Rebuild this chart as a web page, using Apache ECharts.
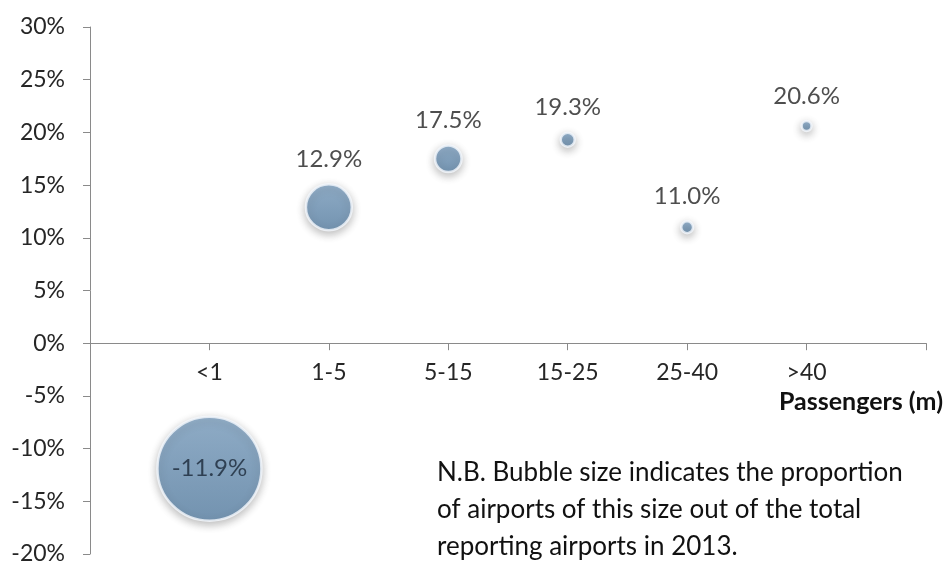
<!DOCTYPE html>
<html>
<head>
<meta charset="utf-8">
<script src="https://cdn.jsdelivr.net/npm/echarts@6/dist/echarts.min.js"></script>
<style>
html,body{margin:0;padding:0;background:#fff;}
#chart{width:948px;height:562px;}
</style>
</head>
<body>
<div id="chart"></div>
<script>
// Passenger size bands (million passengers)
const categories = ['<1', '1-5', '5-15', '15-25', '25-40', '>40'];
// Growth (%) per band
const growth = [-11.9, 12.9, 17.5, 19.3, 11.0, 20.6];
// Proportion of reporting airports in each band (%), drives bubble area
const shareOfAirports = [77, 15, 5, 1.4, 1, 0.7];
const note = 'N.B. Bubble size indicates the proportion\nof airports of this size out of the total\nreporting airports in 2013.';

const FONT = 'Lato';
const yMin = -20, yMax = 30;
const gridTop = 27, gridBottom = 8, chartHeight = 562;
const maxShare = Math.max.apply(null, shareOfAirports);
const maxDiameter = 104;
// move the category axis up to the 0% line
const plotHeight = chartHeight - gridTop - gridBottom;
const zeroOffset = -plotHeight * (0 - yMin) / (yMax - yMin);

const data = categories.map(function (c, i) {
  const neg = growth[i] < 0;
  return {
    value: [i + 1, growth[i], shareOfAirports[i]],
    label: neg
      ? { position: 'inside', color: '#1a2838', fontSize: 24 }
      : { position: 'top', distance: 12 }
  };
});

const chart = echarts.init(document.getElementById('chart'), null, { renderer: 'canvas' });
chart.setOption({
  animation: false,
  backgroundColor: '#ffffff',
  textStyle: { fontFamily: FONT },
  grid: { left: 90, right: 22, top: gridTop, bottom: gridBottom, containLabel: false, outerBoundsMode: 'none' },
  xAxis: {
    type: 'value',
    min: 0,
    max: 7,
    interval: 1,
    position: 'bottom',
    offset: zeroOffset,
    splitLine: { show: false },
    axisLine: { show: true, onZero: false, lineStyle: { color: '#8a8a8a', width: 1 } },
    axisTick: { show: true, length: 7, lineStyle: { color: '#8a8a8a' } },
    axisLabel: {
      margin: 18,
      fontSize: 23,
      color: '#262626',
      fontFamily: FONT,
      formatter: function (v) {
        const idx = Math.round(v) - 1;
        return (idx >= 0 && idx < categories.length) ? categories[idx] : '';
      }
    },
    name: 'Passengers (m)',
    nameLocation: 'end',
    nameGap: 17,
    nameTextStyle: {
      fontFamily: FONT,
      fontSize: 25,
      fontWeight: 'bold',
      color: '#111111',
      align: 'right',
      verticalAlign: 'top',
      padding: [46, 0, 0, 0]
    }
  },
  yAxis: {
    type: 'value',
    min: yMin,
    max: yMax,
    interval: 5,
    splitLine: { show: false },
    axisLine: { show: true, lineStyle: { color: '#8a8a8a', width: 1 } },
    axisTick: { show: true, length: 7, lineStyle: { color: '#8a8a8a' } },
    axisLabel: {
      margin: 25,
      fontSize: 23,
      color: '#262626',
      fontFamily: FONT,
      formatter: '{value}%'
    }
  },
  series: [{
    type: 'scatter',
    data: data,
    symbol: 'circle',
    symbolSize: function (val) {
      return Math.sqrt(val[2] / maxShare) * maxDiameter;
    },
    itemStyle: {
      color: new echarts.graphic.LinearGradient(0, 0, 0, 1, [
        { offset: 0, color: '#82a6c7' },
        { offset: 1, color: '#5f87ab' }
      ]),
      borderColor: '#f4f8fc',
      borderWidth: 2.5,
      shadowBlur: 8,
      shadowColor: 'rgba(0,0,0,0.3)',
      shadowOffsetY: 3
    },
    label: {
      show: true,
      fontSize: 24,
      color: '#222222',
      fontFamily: FONT,
      formatter: function (p) { return p.value[1].toFixed(1) + '%'; }
    }
  }],
  graphic: [{
    type: 'text',
    left: 437,
    top: 454,
    style: {
      text: note,
      font: '26px ' + FONT,
      fill: '#111111',
      lineHeight: 37
    }
  }]
});
</script>
</body>
</html>
